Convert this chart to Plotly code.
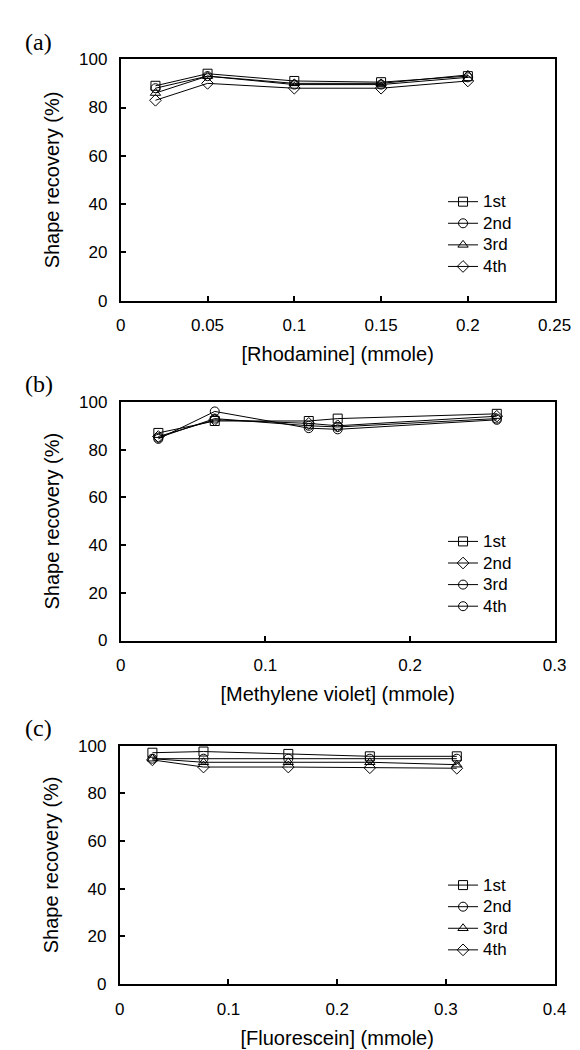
import plotly.graph_objects as go

# ---------------- data ----------------
series_names = ["1st", "2nd", "3rd", "4th"]

# (a) Rhodamine
rhod_x = [0.02, 0.05, 0.10, 0.15, 0.20]
rhod_1st = [89.0, 94.0, 91.0, 90.5, 93.0]
rhod_2nd = [88.0, 93.0, 89.5, 89.5, 92.5]
rhod_3rd = [86.0, 93.0, 90.0, 90.0, 93.5]
rhod_4th = [83.0, 90.0, 88.0, 88.0, 91.0]

# (b) Methylene violet
mv_x = [0.026, 0.065, 0.13, 0.15, 0.26]
mv_1st = [87.0, 92.0, 92.0, 93.0, 95.0]
mv_2nd = [85.5, 92.5, 91.0, 90.0, 94.0]
mv_3rd = [85.0, 93.0, 90.0, 89.5, 93.0]
mv_4th = [84.5, 96.0, 89.0, 88.5, 92.5]

# (c) Fluorescein
fl_x = [0.03, 0.077, 0.155, 0.23, 0.31]
fl_1st = [97.0, 97.5, 96.5, 95.5, 95.5]
fl_2nd = [94.5, 94.5, 94.5, 94.5, 94.5]
fl_3rd = [94.5, 93.0, 93.0, 93.0, 92.0]
fl_4th = [94.0, 91.0, 91.0, 90.7, 90.5]

x_titles = ["[Rhodamine] (mmole)", "[Methylene violet] (mmole)", "[Fluorescein] (mmole)"]
x_ranges = [[0, 0.25], [0, 0.3], [0, 0.4]]
x_dticks = [0.05, 0.1, 0.1]
panel_labels = ["(a)", "(b)", "(c)"]
y_title = "Shape recovery (%)"

# ---------------- layout geometry ----------------
W, H = 580, 1050
px_x = [(112, 563), (112, 563), (111, 563)]
px_y = [(43, 289), (392, 635), (742, 985)]

panels = [
    (rhod_x, [rhod_1st, rhod_2nd, rhod_3rd, rhod_4th],
     ["square-open", "circle-open", "triangle-up-open", "diamond-open"]),
    (mv_x, [mv_1st, mv_2nd, mv_3rd, mv_4th],
     ["square-open", "diamond-open", "circle-open", "circle-open"]),
    (fl_x, [fl_1st, fl_2nd, fl_3rd, fl_4th],
     ["square-open", "circle-open", "triangle-up-open", "diamond-open"]),
]

FONT = "Liberation Sans, Arial, sans-serif"
SERIF = "Liberation Serif, Times New Roman, serif"

fig = go.Figure()
layout = dict(
    width=W, height=H,
    margin=dict(l=0, r=0, t=0, b=0),
    paper_bgcolor="white", plot_bgcolor="white",
    font=dict(family=FONT, color="black", size=17),
    annotations=[],
)

for i, (xs, ys_list, symbols) in enumerate(panels):
    k = "" if i == 0 else str(i + 1)
    xa, ya = "x" + k, "y" + k
    leg = "legend" + k
    for name, ys, sym in zip(series_names, ys_list, symbols):
        fig.add_trace(go.Scatter(
            x=xs, y=ys, mode="lines+markers",
            name='<span style="font-size:17px">' + name + "</span>",
            xaxis=xa, yaxis=ya, legend=leg,
            line=dict(color="black", width=1),
            marker=dict(symbol=sym, size=9, color="black",
                        line=dict(color="black", width=1)),
        ))
    x0, x1 = px_x[i]
    y0, y1 = px_y[i]
    axis_common = dict(
        showline=True, mirror=True, linecolor="black", linewidth=2,
        ticks="inside", ticklen=5, tickwidth=1.5, tickcolor="black",
        showgrid=False, zeroline=False,
        tickfont=dict(family=FONT, size=17, color="black"),
    )
    layout["xaxis" + k] = dict(
        domain=[x0 / W, x1 / W], anchor=ya, range=x_ranges[i],
        dtick=x_dticks[i], tick0=0, ticklabelstandoff=8,
        title=dict(text=x_titles[i], font=dict(family=FONT, size=20), standoff=13),
        **axis_common)
    layout["yaxis" + k] = dict(
        domain=[1 - y1 / H, 1 - y0 / H], anchor=xa, range=[0, 100],
        dtick=20, tick0=0, ticklabelstandoff=8,
        title=dict(text=y_title, font=dict(family=FONT, size=20), standoff=14),
        **axis_common)
    layout[leg] = dict(
        x=447 / W, xanchor="left",
        y=1 - (y1 - 117) / H, yanchor="top",
        bgcolor="rgba(0,0,0,0)", borderwidth=0,
        font=dict(family=FONT, size=14.3, color="black"),
        tracegroupgap=0, itemwidth=30,
    )
    layout["annotations"].append(dict(
        text=panel_labels[i], xref="paper", yref="paper",
        x=10 / W, y=1 - (y0 - 18) / H, xanchor="left", yanchor="middle",
        showarrow=False, font=dict(family=SERIF, size=24, color="black"),
    ))

fig.update_layout(**layout)
fig.write_html("out.html")
